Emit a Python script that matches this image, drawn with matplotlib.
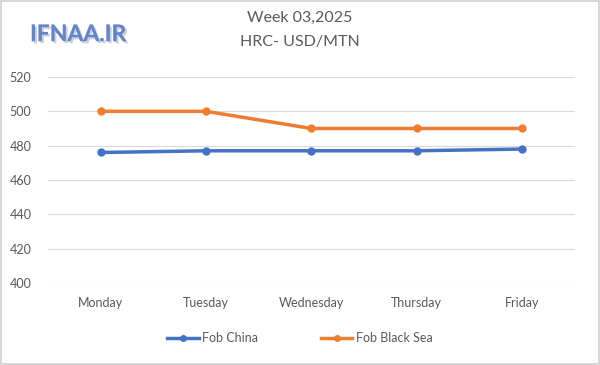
import matplotlib.pyplot as plt
import matplotlib.patheffects as pe
from matplotlib.patches import Rectangle

days = ["Monday", "Tuesday", "Wednesday", "Thursday", "Friday"]
fob_china = [476, 477, 477, 477, 478]
fob_black_sea = [500, 500, 490, 490, 490]
yticks = [400, 420, 440, 460, 480, 500, 520]

plt.rcParams["font.family"] = ["Lato", "DejaVu Sans"]
fig = plt.figure(figsize=(6, 3.65), dpi=100)
ax = fig.add_axes([0.08, 0.225, 0.878, 0.564])

x = range(len(days))
ax.plot(x, fob_china, color="#4472c4", lw=2.5, marker="o", ms=5, label="Fob China")
ax.plot(x, fob_black_sea, color="#ed7d31", lw=2.5, marker="o", ms=5, label="Fob Black Sea")

ax.set_xlim(-0.5, len(days) - 0.5)
ax.set_ylim(400, 520)
ax.set_yticks(yticks)
ax.set_xticks(list(x))
ax.set_xticklabels(days)
ax.grid(axis="y", color="#d9d9d9", lw=0.8)
ax.set_axisbelow(True)
for s in ax.spines.values():
    s.set_visible(False)
ax.tick_params(length=0, colors="#595959", labelsize=9)
ax.tick_params(axis="x", pad=10)
ax.tick_params(axis="y", pad=12)

fig.text(0.5, 0.95, "Week 03,2025", ha="center", va="center", fontsize=11.5, color="#595959")
fig.text(0.5, 0.885, "HRC- USD/MTN", ha="center", va="center", fontsize=11.5, color="#595959")

fig.text(0.05, 0.905, "IFNAA.IR", ha="left", va="center", fontsize=16.5, fontweight="bold",
         color="#6585c6",
         path_effects=[pe.withSimplePatchShadow(offset=(1.5, -1.5), shadow_rgbFace="#a8b3c6", alpha=0.6),
                       pe.Normal()])

fig.legend(loc="center", bbox_to_anchor=(0.5, 0.073), ncol=2, frameon=False,
           fontsize=9, labelcolor="#595959", handlelength=2.5, columnspacing=5,
           handletextpad=0.3, markerscale=0.8)

fig.patches.append(Rectangle((0.002, 0.003), 0.996, 0.994, transform=fig.transFigure,
                             fill=False, edgecolor="#d0d0d0", lw=1.2))

fig.savefig("out.png", dpi=100)
